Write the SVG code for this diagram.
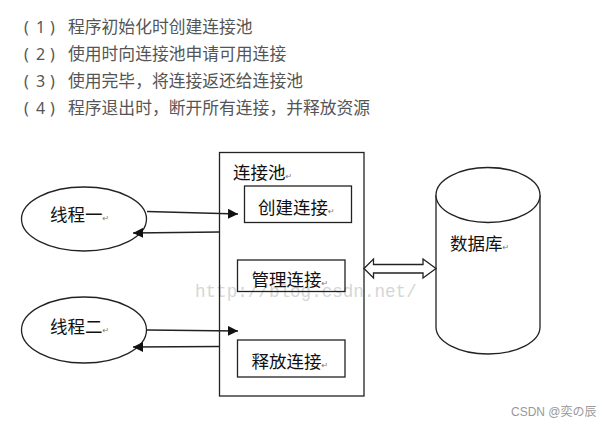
<svg xmlns="http://www.w3.org/2000/svg" width="613" height="428" viewBox="0 0 613 428">
<style>
.list{font-family:"Noto Sans CJK SC","Noto Sans",sans-serif;font-size:16.8px;fill:#555}
.num{font-family:"Noto Sans","Noto Sans CJK SC",sans-serif;font-size:16px;fill:#555}
.lbl{font-family:"Noto Sans CJK SC",sans-serif;font-size:17.5px;fill:#111}
.rm{font-family:"DejaVu Sans",sans-serif;font-size:8px;fill:#777}
.shape{fill:#fff;stroke:#222;stroke-width:1.3}
.conn{fill:none;stroke:#222;stroke-width:1.3}
.wm{font-family:"Liberation Mono",monospace;font-size:17.6px;fill:#d6d6d6}
.sig{font-family:"Liberation Sans","Noto Sans CJK JP",sans-serif;font-size:12px;fill:#999}
</style>
<defs>
<marker id="ah" viewBox="0 0 10 10" refX="10" refY="5" markerWidth="10" markerHeight="10" markerUnits="userSpaceOnUse" orient="auto">
<path d="M0,0 L10,5 L0,10 Z" fill="#111"/>
</marker>
</defs>
<rect width="613" height="428" fill="#fff"/>
<g id="list">
<text class="num" y="33"><tspan x="24">(</tspan><tspan x="36">1</tspan><tspan x="50">)</tspan></text>
<text class="list" x="68" y="33">程序初始化时创建连接池</text>
<text class="num" y="60"><tspan x="24">(</tspan><tspan x="36">2</tspan><tspan x="50">)</tspan></text>
<text class="list" x="68" y="60">使用时向连接池申请可用连接</text>
<text class="num" y="87"><tspan x="24">(</tspan><tspan x="36">3</tspan><tspan x="50">)</tspan></text>
<text class="list" x="68" y="87">使用完毕，将连接返还给连接池</text>
<text class="num" y="114"><tspan x="24">(</tspan><tspan x="36">4</tspan><tspan x="50">)</tspan></text>
<text class="list" x="68" y="114">程序退出时，断开所有连接，并释放资源</text>
</g>
<text class="wm" x="195" y="297">http://blog.csdn.net/</text>
<g id="pool">
<rect class="shape" x="219.5" y="152.5" width="144.5" height="243.5" fill-opacity="0"/>
<text class="lbl" x="233" y="179">连接池<tspan class="rm">↵</tspan></text>
</g>
<g id="create">
<rect class="shape" x="244.5" y="186" width="107" height="36.5"/>
<text class="lbl" x="258" y="214">创建连接<tspan class="rm">↵</tspan></text>
</g>
<g id="manage">
<rect class="shape" x="237.5" y="260" width="107.5" height="31.5" fill-opacity="0"/>
<text class="lbl" x="251.5" y="286">管理连接<tspan class="rm">↵</tspan></text>
</g>
<g id="release">
<rect class="shape" x="237.5" y="340" width="107.5" height="37"/>
<text class="lbl" x="251.5" y="368">释放连接<tspan class="rm">↵</tspan></text>
</g>
<g id="thread1">
<ellipse class="shape" cx="84" cy="219" rx="62.5" ry="32"/>
<text class="lbl" x="50" y="221">线程一<tspan class="rm">↵</tspan></text>
</g>
<g id="thread2">
<ellipse class="shape" cx="84" cy="330" rx="62.5" ry="33"/>
<text class="lbl" x="50" y="333">线程二<tspan class="rm">↵</tspan></text>
</g>
<g id="db">
<path class="shape" d="M436,195 L436,327 A52,27 0 0 0 540,327 L540,195"/>
<ellipse class="shape" cx="488" cy="195" rx="52" ry="27.5"/>
<text class="lbl" x="450" y="250">数据库<tspan class="rm">↵</tspan></text>
</g>
<g id="connectors">
<line class="conn" x1="147" y1="211.5" x2="238" y2="214" marker-end="url(#ah)"/>
<line class="conn" x1="219.5" y1="232" x2="133" y2="233" marker-end="url(#ah)"/>
<line class="conn" x1="147" y1="330" x2="238" y2="331" marker-end="url(#ah)"/>
<line class="conn" x1="219.5" y1="346.5" x2="133" y2="347" marker-end="url(#ah)"/>
<polygon class="shape" points="364,268.5 373.5,259 373.5,264.5 423,264.5 423,259 436,268.5 423,278 423,273 373.5,273 373.5,278"/>
</g>
<text class="sig" x="511" y="416">CSDN @奕の辰</text>
</svg>
